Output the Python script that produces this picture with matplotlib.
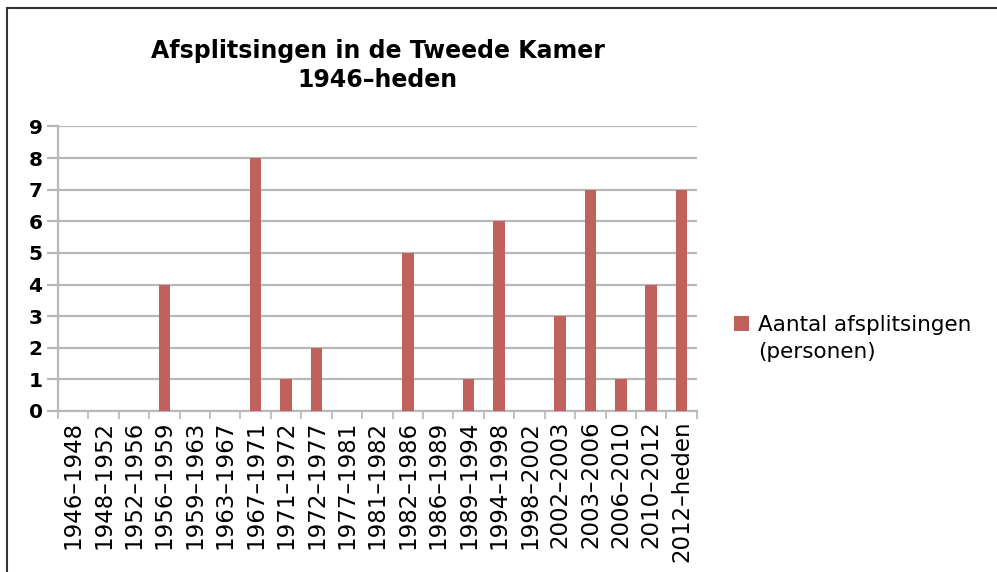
import matplotlib.pyplot as plt
from matplotlib.patches import Rectangle

# Afsplitsingen per kabinetsperiode
periods = ["1946–1948", "1948–1952", "1952–1956", "1956–1959", "1959–1963",
           "1963–1967", "1967–1971", "1971–1972", "1972–1977", "1977–1981",
           "1981–1982", "1982–1986", "1986–1989", "1989–1994", "1994–1998",
           "1998–2002", "2002–2003", "2003–2006", "2006–2010", "2010–2012",
           "2012–heden"]
counts = [0, 0, 0, 4, 0, 0, 8, 1, 2, 0, 0, 5, 0, 1, 6, 0, 3, 7, 1, 4, 7]

bar_color = "#c0625c"
grid_color = "#b8b8b8"

fig = plt.figure(figsize=(9.97, 5.72), dpi=100)
ax = fig.add_axes([0.058, 0.2815, 0.641, 0.4975])

x = range(len(periods))
bars = ax.bar(x, counts, width=0.38, color=bar_color, zorder=3)

ax.set_xlim(-0.5, len(periods) - 0.5)
ax.set_ylim(0, 9)
ax.set_yticks(range(10))
ax.yaxis.grid(True, color=grid_color, linewidth=1.6, zorder=0)
ax.tick_params(axis="y", length=8, width=1.6, color=grid_color, pad=3,
               labelsize=14.5)
for lbl in ax.get_yticklabels():
    lbl.set_fontweight("bold")

# x ticks between the categories, labels on the categories
ax.set_xticks([i - 0.5 for i in range(len(periods) + 1)])
ax.set_xticklabels([])
ax.set_xticks(list(x), minor=True)
ax.set_xticklabels(periods, minor=True, rotation=90, fontsize=16.5)
ax.tick_params(axis="x", which="major", length=6, width=1.2, color=grid_color)
ax.tick_params(axis="x", which="minor", length=0, pad=7)

for side in ["top", "right"]:
    ax.spines[side].set_visible(False)
for side in ["left", "bottom"]:
    ax.spines[side].set_color(grid_color)
    ax.spines[side].set_linewidth(1.6)

fig.text(0.379, 0.91, "Afsplitsingen in de Tweede Kamer", ha="center",
         va="center", fontsize=17, fontweight="bold")
fig.text(0.379, 0.86, "1946–heden", ha="center", va="center",
         fontsize=17, fontweight="bold")

# legend: square beside the first line, second line without a marker
blank = Rectangle((0, 0), 1, 1, fill=False, edgecolor="none")
ax.legend([bars, blank], ["Aantal afsplitsingen", "(personen)"],
          loc="center left", bbox_to_anchor=(1.028, 0.255), frameon=False,
          fontsize=15.5, handlelength=0.7, handleheight=0.7,
          handletextpad=0.4, labelspacing=0.35)

# frame around the figure (only top and left visible in the crop)
fig.add_artist(plt.Line2D([0.007, 0.007], [0, 0.986], color="#333333",
                          linewidth=1.5, transform=fig.transFigure))
fig.add_artist(plt.Line2D([0.007, 1.0], [0.986, 0.986], color="#333333",
                          linewidth=1.5, transform=fig.transFigure))

fig.savefig("out.png", dpi=100)
